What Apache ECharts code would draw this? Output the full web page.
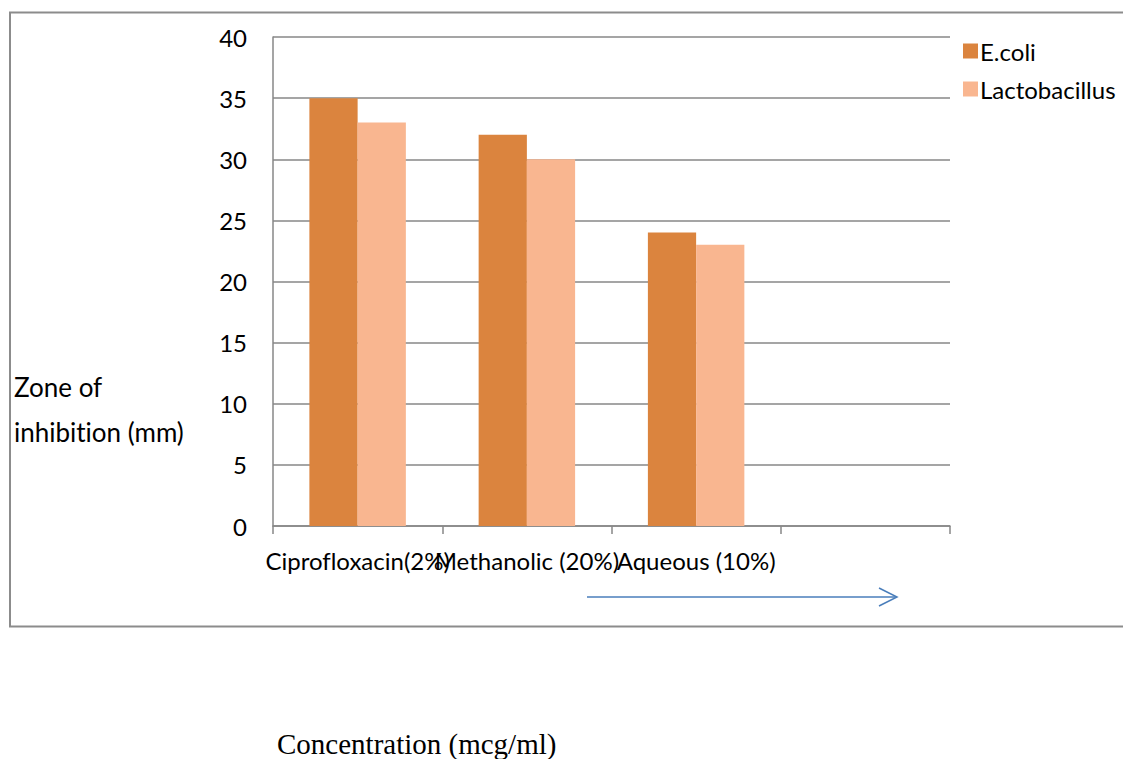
<!DOCTYPE html>
<html>
<head>
<meta charset="utf-8">
<script src="https://cdn.jsdelivr.net/npm/echarts@6/dist/echarts.min.js"></script>
<style>
  html, body { margin: 0; padding: 0; background: #fff; }
  #chart { width: 1123px; height: 759px; }
  #chart text { font-variant-ligatures: none !important; font-feature-settings: "liga" 0, "clig" 0 !important; }
</style>
</head>
<body>
<div id="chart"></div>
<script>
// Treatments on the x axis (last slot left empty, as in the original layout)
const categories = ['Ciprofloxacin(2%)', 'Methanolic (20%)', 'Aqueous (10%)', ''];
// Zone of inhibition in mm
const ecoli = [35, 32, 24, null];
const lactobacillus = [33, 30, 23, null];
const seriesNames = ['E.coli', 'Lactobacillus'];
const yTicks = { min: 0, max: 40, interval: 5 };

const FONT = 'Lato, "Open Sans", sans-serif';
const GRID_COLOR = '#878787';

const chart = echarts.init(document.getElementById('chart'), null, { renderer: 'svg' });

chart.setOption({
  animation: false,
  backgroundColor: '#fff',
  textStyle: { fontFamily: FONT, color: '#000' },
  grid: { left: 273, right: 173, top: 37, bottom: 233, containLabel: false },
  legend: {
    orient: 'vertical',
    left: 958,
    top: 34,
    itemWidth: 15,
    itemHeight: 15,
    itemGap: 14,
    icon: 'rect',
    textStyle: { fontFamily: FONT, fontSize: 24, color: '#000', padding: [0, 0, 0, -3] },
    data: seriesNames
  },
  xAxis: {
    type: 'category',
    data: categories,
    axisLine: { lineStyle: { color: GRID_COLOR, width: 1.5 } },
    axisTick: { show: true, length: 8, lineStyle: { color: GRID_COLOR, width: 1.5 } },
    axisLabel: {
      interval: 0,
      hideOverlap: false,
      margin: 22,
      fontFamily: FONT,
      fontSize: 24,
      color: '#000'
    }
  },
  yAxis: {
    type: 'value',
    min: yTicks.min,
    max: yTicks.max,
    interval: yTicks.interval,
    axisLine: { show: true, lineStyle: { color: GRID_COLOR, width: 1.5 } },
    axisTick: { show: false },
    axisLabel: { margin: 26, fontFamily: FONT, fontSize: 24, color: '#000' },
    splitLine: { lineStyle: { color: GRID_COLOR, width: 1.5 } }
  },
  series: [
    {
      name: seriesNames[0],
      type: 'bar',
      data: ecoli,
      itemStyle: { color: '#DB843E' },
      barGap: '0%',
      barCategoryGap: '43%'
    },
    {
      name: seriesNames[1],
      type: 'bar',
      data: lactobacillus,
      itemStyle: { color: '#F9B690' }
    }
  ],
  graphic: [
    // chart frame
    {
      type: 'rect',
      shape: { x: 10, y: 12.5, width: 1130, height: 614 },
      style: { fill: 'none', stroke: '#8c8c8c', lineWidth: 2 },
      silent: true
    },
    // y axis title
    {
      type: 'text',
      left: 14,
      top: 364,
      style: {
        text: 'Zone of\ninhibition (mm)',
        font: '26px ' + FONT,
        fill: '#000',
        lineHeight: 45
      }
    },
    // direction arrow under the categories
    {
      type: 'polyline',
      shape: { points: [[587, 597], [896, 597]] },
      style: { stroke: '#4A7EBB', lineWidth: 1.5, fill: 'none' }
    },
    {
      type: 'polyline',
      shape: { points: [[879, 588], [897, 597], [879, 606]] },
      style: { stroke: '#4A7EBB', lineWidth: 1.5, fill: 'none' }
    },
    // x axis title
    {
      type: 'text',
      left: 277,
      top: 729,
      style: {
        text: 'Concentration (mcg/ml)',
        font: '29px "Liberation Serif", "Times New Roman", serif',
        fill: '#000'
      }
    }
  ]
});
</script>
</body>
</html>
